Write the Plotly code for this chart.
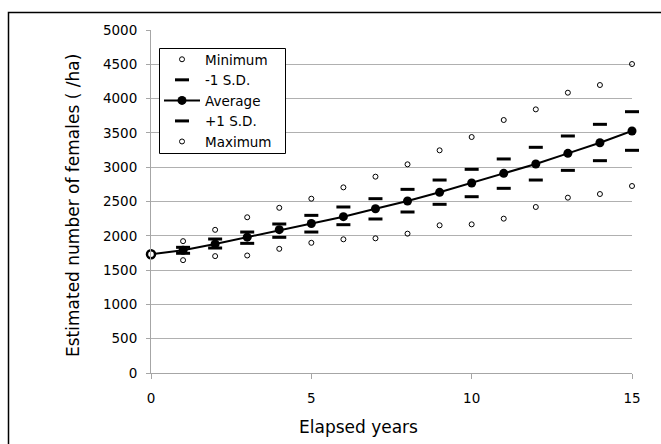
import plotly.graph_objects as go

# Elapsed years and the simulated female density (per ha)
years = list(range(0, 16))
average = [1730, 1790, 1880, 1980, 2090, 2180, 2279, 2395, 2507, 2634,
           2770, 2911, 3047, 3202, 3357, 3528]

# Spread of the simulation runs, years 1-15
spread_years = list(range(1, 16))
minimum = [1645, 1704, 1713, 1810, 1898, 1949, 1963, 2031, 2153, 2167,
           2250, 2420, 2556, 2609, 2726]
minus_sd = [1745, 1822, 1890, 1978, 2055, 2162, 2245, 2347, 2459, 2570,
            2692, 2813, 2954, 3095, 3246]
plus_sd = [1832, 1953, 2055, 2172, 2298, 2420, 2541, 2677, 2813, 2969,
           3120, 3290, 3455, 3625, 3809]
maximum = [1922, 2087, 2270, 2408, 2541, 2706, 2862, 3042, 3246, 3440,
           3688, 3843, 4086, 4198, 4504]

y_ticks = list(range(0, 5001, 500))
x_ticks = [0, 5, 10, 15]

FONT = "DejaVu Sans"
W, H = 661, 444
L, R, T, B = 151, 29, 30, 71
pw, ph = W - L - R, H - T - B


def px_x(p):
    return (p - L) / pw


def px_y(p):
    return (H - B - p) / ph


fig = go.Figure()

fig.add_trace(go.Scatter(
    x=spread_years, y=minimum, mode="markers", name="Minimum",
    marker=dict(symbol="circle-open", size=5, color="black",
                line=dict(width=1, color="black")),
    cliponaxis=False))
fig.add_trace(go.Scatter(
    x=spread_years, y=minus_sd, mode="markers", name="-1 S.D.",
    marker=dict(symbol="line-ew", size=10, color="black",
                line=dict(width=3, color="black")),
    cliponaxis=False))
fig.add_trace(go.Scatter(
    x=years, y=average, mode="lines+markers", name="Average",
    line=dict(color="black", width=2),
    marker=dict(symbol="circle", size=9, color="black"),
    cliponaxis=False))
fig.add_trace(go.Scatter(
    x=spread_years, y=plus_sd, mode="markers", name="+1 S.D.",
    marker=dict(symbol="line-ew", size=10, color="black",
                line=dict(width=3, color="black")),
    cliponaxis=False))
fig.add_trace(go.Scatter(
    x=spread_years, y=maximum, mode="markers", name="Maximum",
    marker=dict(symbol="circle-open", size=5, color="black",
                line=dict(width=1, color="black")),
    cliponaxis=False))
# starting density (year 0) shown as an open marker
fig.add_trace(go.Scatter(
    x=years[:1], y=average[:1], mode="markers", showlegend=False,
    marker=dict(symbol="circle", size=8, color="white",
                line=dict(width=2.5, color="black")),
    cliponaxis=False))

fig.update_layout(
    width=W, height=H,
    margin=dict(l=L, r=R, t=T, b=B, pad=0),
    paper_bgcolor="white", plot_bgcolor="white",
    font=dict(family=FONT, size=13, color="black"),
    showlegend=True,
    legend=dict(
        x=px_x(159), y=px_y(44), xanchor="left", yanchor="top",
        bgcolor="rgba(0,0,0,0)", borderwidth=0,
        itemwidth=36,
        font=dict(family=FONT, size=13.5, color="black"),
        traceorder="normal",
    ),
    xaxis=dict(
        range=[0, 15], tickvals=x_ticks, showgrid=False, zeroline=False,
        showline=True, linecolor="#a6a6a6", linewidth=1,
        ticks="outside", ticklen=5, tickcolor="#a6a6a6",
        ticklabelstandoff=8,
        tickfont=dict(family=FONT, size=13.5, color="black"),
    ),
    yaxis=dict(
        range=[0, 5000], tickvals=y_ticks, showgrid=True,
        gridcolor="#b0b0b0", gridwidth=1, zeroline=False,
        showline=True, linecolor="#a6a6a6", linewidth=1,
        ticks="outside", ticklen=4, tickcolor="#a6a6a6",
        ticklabelstandoff=6,
        tickfont=dict(family=FONT, size=13.5, color="black"),
    ),
    annotations=[
        dict(text="Elapsed years", xref="paper", yref="paper",
             x=px_x(358), y=px_y(427), xanchor="center", yanchor="middle",
             showarrow=False, font=dict(family=FONT, size=17, color="black")),
        dict(text="Estimated number of females ( /ha)", xref="paper",
             yref="paper", x=px_x(73), y=px_y(206), xanchor="center",
             yanchor="middle", textangle=-90, showarrow=False,
             font=dict(family=FONT, size=17, color="black")),
    ],
    shapes=[
        # outer chart frame
        dict(type="rect", xref="paper", yref="paper",
             x0=px_x(8.5), x1=px_x(665), y0=px_y(12.5), y1=px_y(450),
             line=dict(color="black", width=1.5), layer="below"),
        # legend frame
        dict(type="rect", xref="paper", yref="paper",
             x0=px_x(159.5), x1=px_x(285.5), y0=px_y(48.5), y1=px_y(153.5),
             line=dict(color="black", width=1), fillcolor="white",
             layer="above"),
    ],
)

fig.write_html("out.html")
